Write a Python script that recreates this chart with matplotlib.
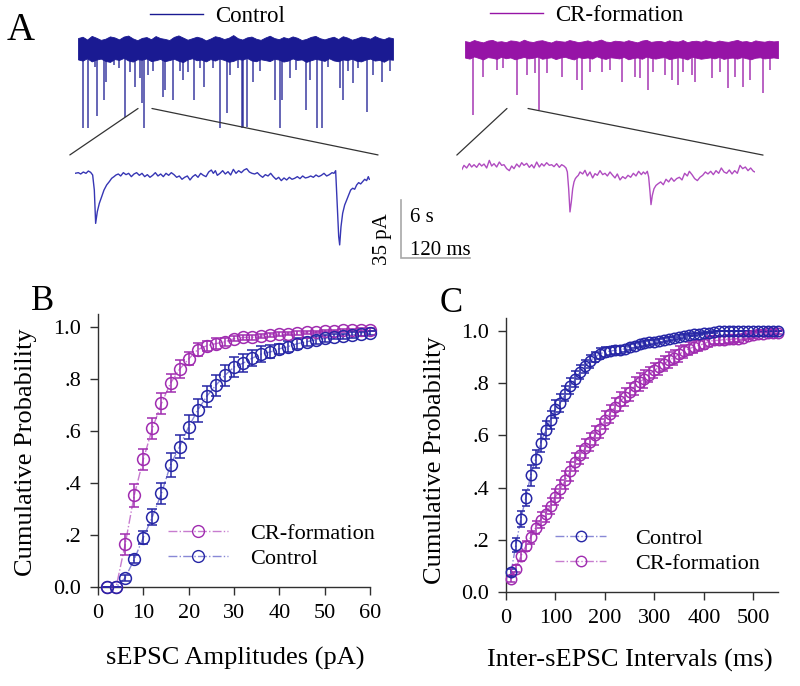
import numpy as np
import matplotlib
matplotlib.use('Agg')
import matplotlib.pyplot as plt
from matplotlib.lines import Line2D
from matplotlib.patches import ConnectionPatch

plt.rcParams['font.family'] = ['Liberation Serif', 'DejaVu Serif']

# ---------------- data: panel B (amplitudes) ----------------
amp_x = [2, 4, 6, 8, 10, 12, 14, 16, 18, 20, 22, 24, 26, 28, 30, 32, 34, 36, 38, 40,
         42, 44, 46, 48, 50, 52, 54, 56, 58, 60]
amp_ctrl = [0.0, 0.0, 0.035, 0.107, 0.19, 0.27, 0.36, 0.47, 0.54, 0.616, 0.68, 0.734,
            0.776, 0.814, 0.846, 0.861, 0.88, 0.896, 0.904, 0.916, 0.925, 0.936, 0.943,
            0.951, 0.956, 0.963, 0.965, 0.969, 0.974, 0.976]
amp_ctrl_err = [0.0, 0.0, 0.01, 0.015, 0.025, 0.03, 0.04, 0.045, 0.045, 0.045, 0.045,
                0.04, 0.04, 0.04, 0.04, 0.035, 0.03, 0.03, 0.025, 0.02, 0.02, 0.02,
                0.015, 0.015, 0.012, 0.01, 0.01, 0.01, 0.008, 0.008]
amp_cr = [0.0, 0.0, 0.165, 0.353, 0.491, 0.61, 0.706, 0.784, 0.838, 0.877, 0.913, 0.928,
          0.936, 0.943, 0.955, 0.96, 0.96, 0.965, 0.97, 0.973, 0.974, 0.977, 0.979,
          0.981, 0.984, 0.985, 0.987, 0.988, 0.99, 0.99]
amp_cr_err = [0.0, 0.0, 0.04, 0.045, 0.04, 0.04, 0.04, 0.035, 0.035, 0.025, 0.025, 0.02,
              0.02, 0.015, 0.01, 0.01, 0.01, 0.008, 0.008, 0.008, 0.006, 0.006, 0.006,
              0.005, 0.005, 0.005, 0.005, 0.005, 0.005, 0.005]

# ---------------- data: panel C (intervals) ----------------
int_x = [10, 20, 30, 40, 50, 60, 70, 80, 90, 100, 110, 120, 130, 140, 150, 160, 170,
         180, 190, 200, 210, 220, 230, 240, 250, 260, 270, 280, 290, 300, 310, 320,
         330, 340, 350, 360, 370, 380, 390, 400, 410, 420, 430, 440, 450, 460, 470,
         480, 490, 500, 510, 520, 530, 540, 550]
int_ctrl = [0.075, 0.18, 0.28, 0.36, 0.447, 0.51, 0.57, 0.62, 0.66, 0.70, 0.725, 0.76,
            0.79, 0.815, 0.843, 0.865, 0.884, 0.90, 0.913, 0.92, 0.923, 0.926, 0.928,
            0.932, 0.939, 0.944, 0.949, 0.953, 0.957, 0.959, 0.962, 0.964, 0.968,
            0.972, 0.977, 0.981, 0.985, 0.987, 0.99, 0.992, 0.994, 0.996, 1.0, 1.0,
            1.0, 1.0, 1.0, 1.0, 1.0, 1.0, 1.0, 1.0, 1.0, 1.0, 1.0]
int_ctrl_err = [0.015, 0.025, 0.03, 0.03, 0.04, 0.035, 0.035, 0.035, 0.035, 0.035,
                0.035, 0.03, 0.03, 0.03, 0.025, 0.025, 0.025, 0.02, 0.02, 0.02, 0.015,
                0.015, 0.015, 0.012, 0.012, 0.01, 0.01, 0.01, 0.01, 0.008, 0.008,
                0.008, 0.008, 0.006, 0.006, 0.006, 0.005, 0.005, 0.004, 0.004, 0.003,
                0.003, 0.0, 0.0, 0.0, 0.0, 0.0, 0.0, 0.0, 0.0, 0.0, 0.0, 0.0, 0.0, 0.0]
int_cr = [0.05, 0.09, 0.137, 0.176, 0.21, 0.246, 0.277, 0.30, 0.33, 0.364, 0.396, 0.428,
          0.462, 0.498, 0.524, 0.55, 0.575, 0.60, 0.626, 0.658, 0.683, 0.709, 0.73,
          0.747, 0.766, 0.788, 0.805, 0.817, 0.833, 0.849, 0.862, 0.875, 0.888, 0.898,
          0.911, 0.922, 0.932, 0.939, 0.945, 0.951, 0.96, 0.964, 0.964, 0.967, 0.968,
          0.969, 0.971, 0.974, 0.98, 0.983, 0.987, 0.99, 0.992, 0.994, 0.994]
int_cr_err = [0.01, 0.015, 0.02, 0.02, 0.025, 0.025, 0.03, 0.03, 0.03, 0.03, 0.035,
              0.035, 0.035, 0.035, 0.035, 0.035, 0.035, 0.035, 0.035, 0.035, 0.035,
              0.035, 0.035, 0.035, 0.035, 0.035, 0.035, 0.035, 0.03, 0.03, 0.03, 0.03,
              0.03, 0.03, 0.03, 0.025, 0.025, 0.025, 0.02, 0.02, 0.02, 0.015, 0.015,
              0.015, 0.015, 0.012, 0.012, 0.01, 0.01, 0.01, 0.008, 0.008, 0.006, 0.006,
              0.005]

y_ticks = [0.0, 0.2, 0.4, 0.6, 0.8, 1.0]
y_tick_labels = ['0.0', '.2', '.4', '.6', '.8', '1.0']
amp_ticks = [0, 10, 20, 30, 40, 50, 60]
int_ticks = [0, 100, 200, 300, 400, 500]

# ---------------- data: panel A overview traces (s, pA) ----------------
ctrl_band_top = [6.0, 6.8, 5.1, 7.3, 6.2, 4.9, 5.6, 7.0, 6.4, 5.2,
                 6.9, 7.5, 5.8, 4.7, 6.1, 6.6, 5.3, 7.2, 6.0, 5.5,
                 4.8, 6.7, 7.6, 6.3, 5.0, 5.9, 6.8, 6.1, 4.6, 5.7,
                 7.1, 6.5, 5.4, 6.2, 7.8, 5.9, 5.1, 6.4, 6.9, 5.6,
                 4.9, 6.3, 7.4, 6.0, 5.3, 6.6, 5.8, 7.0, 6.2, 4.8,
                 5.5, 6.7, 7.3, 5.9, 5.2, 6.1, 6.8, 5.4, 7.1, 6.3,
                 5.0, 5.8, 6.9, 6.4, 5.6, 7.2, 6.0, 5.3, 6.5, 5.9]
ctrl_band_bot = [-6.9, -7.6, -6.2, -8.1, -7.0, -6.4, -7.8, -8.4, -6.7, -7.2,
                 -6.0, -7.5, -8.2, -6.8, -7.1, -6.3, -7.9, -7.4, -6.6, -8.0,
                 -7.3, -6.5, -7.7, -8.5, -6.9, -6.2, -7.4, -7.0, -8.1, -6.7,
                 -7.6, -6.4, -7.2, -8.3, -7.8, -6.6, -7.1, -6.0, -7.5, -8.0,
                 -6.8, -7.3, -7.9, -6.5, -7.0, -8.2, -7.6, -6.3, -7.2, -6.9,
                 -8.4, -7.4, -6.6, -7.1, -7.8, -6.2, -7.5, -8.0, -6.9, -7.3,
                 -6.5, -7.7, -8.1, -7.0, -6.4, -7.6, -7.2, -8.3, -6.8, -7.1]
ctrl_ev_t = [0.41, 0.90, 1.48, 1.68, 2.29, 2.43, 3.13, 3.57, 4.09, 4.52, 4.96, 5.39,
             5.60, 5.77, 6.12, 6.55, 7.42, 7.57, 8.29, 8.87, 9.16, 9.59, 10.09, 10.61,
             10.96, 11.77, 12.35, 12.93, 13.22, 13.94, 14.23, 14.38, 14.67, 15.25,
             15.83, 17.13, 17.57, 17.71, 18.43, 18.99, 19.83, 20.17, 20.75, 21.19,
             21.77, 22.78, 23.07, 23.51, 23.94, 24.38, 25.10, 25.68, 26.41, 27.14]
ctrl_ev_amp = [-48.0, -48.0, -11.3, -41.0, -31.4, -20.3, -10.5, -12.3, -41.4, -14.3,
               -23.3, -18.1, -33.4, -48.0, -16.1, -14.1, -29.4, -25.3, -31.4, -14.1,
               -19.3, -14.3, -31.4, -12.3, -23.3, -12.3, -48.0, -39.4, -16.1, -12.3,
               -48.0, -47.4, -47.4, -20.3, -14.1, -31.4, -48.0, -31.4, -18.1, -13.1,
               -37.4, -19.3, -48.0, -48.0, -11.3, -24.3, -31.4, -14.1, -21.3, -12.3,
               -38.4, -16.1, -20.3, -14.1]

cr_band_top = [4.2, 3.6, 4.8, 4.0, 3.4, 4.5, 4.9, 3.8, 4.1, 3.5,
               4.6, 4.3, 3.7, 5.0, 4.0, 3.6, 4.4, 4.7, 3.9, 3.3,
               4.5, 4.1, 3.8, 4.8, 4.2, 3.5, 4.0, 4.6, 3.7, 4.3,
               5.1, 3.9, 3.6, 4.4, 4.2, 3.8, 4.7, 4.0, 3.4, 4.5,
               4.9, 3.7, 4.1, 4.3, 3.6, 4.6, 4.0, 3.9, 4.8, 3.5,
               4.2, 4.4, 3.8, 4.7, 4.1, 3.6, 4.5, 4.0, 3.7, 4.3,
               4.9, 3.9, 4.2, 3.5, 4.6, 4.1, 3.8, 4.4, 4.0, 4.2]
cr_band_bot = [-5.8, -6.4, -5.1, -6.0, -6.9, -5.5, -5.9, -6.6, -5.3, -6.2,
               -5.7, -6.8, -6.1, -5.4, -6.3, -5.9, -5.2, -6.5, -6.0, -5.6,
               -6.7, -5.8, -5.3, -6.2, -6.9, -5.5, -6.1, -5.7, -6.4, -5.0,
               -6.0, -6.6, -5.6, -5.9, -6.3, -5.4, -6.8, -6.1, -5.7, -6.5,
               -5.2, -6.0, -6.4, -5.8, -5.5, -6.7, -6.2, -5.6, -6.0, -6.9,
               -5.3, -5.9, -6.5, -6.1, -5.7, -6.3, -5.4, -6.6, -6.0, -5.8,
               -6.4, -5.5, -6.2, -6.8, -5.9, -5.6, -6.3, -6.0, -5.7, -6.1]
cr_ev_t = [0.67, 1.59, 2.75, 3.33, 4.49, 5.36, 6.09, 6.46, 7.10, 8.41, 9.77, 10.14,
           10.87, 11.88, 12.61, 13.62, 14.78, 15.22, 15.94, 16.38, 17.39, 17.97, 18.55,
           18.99, 19.71, 20.00, 21.45, 22.17, 22.90, 23.48, 24.20, 24.78, 25.94, 26.52]
cr_ev_amp = [-40.4, -17.3, -13.3, -12.3, -28.3, -16.3, -15.3, -37.4, -15.3, -17.3,
             -19.3, -25.3, -14.3, -14.3, -13.3, -20.3, -17.3, -18.3, -25.3, -14.3,
             -16.3, -19.3, -22.3, -14.3, -16.3, -20.3, -18.3, -14.3, -24.3, -17.3,
             -23.3, -19.3, -27.3, -13.3]

# ---------------- data: panel A expanded traces (ms, pA) ----------------
ctrl_in_t = [0, 5.8, 9.9, 14.5, 19.1, 23.2, 27.2, 30.7, 33.6, 35.9, 38.8, 42.3, 46.4,
             50.4, 55.1, 59.7, 63.8, 67.8, 71.3, 75.4, 79.4, 84.1, 88.7, 93.3, 98.0,
             102.6, 107.2, 111.9, 116.5, 121.2, 125.8, 130.4, 135.1, 139.7, 144.3,
             149.0, 153.6, 158.3, 162.9, 167.5, 172.2, 176.8, 181.4, 186.1, 190.7,
             195.4, 200.0, 204.6, 209.3, 213.9, 218.6, 223.2, 227.8, 232.5, 237.1,
             240.6, 244.1, 247.5, 252.2, 256.8, 261.4, 266.1, 270.7, 275.4, 280.0,
             284.6, 289.3, 293.9, 298.6, 303.2, 307.8, 312.5, 317.1, 321.7, 326.4,
             331.0, 335.7, 340.3, 344.9, 349.6, 354.2, 358.8, 363.5, 368.1, 372.8,
             377.4, 382.0, 386.7, 391.3, 395.9, 400.6, 405.2, 409.9, 414.5, 419.1,
             423.8, 428.4, 433.0, 437.7, 442.3, 447.0, 450.4, 453.3, 456.2, 458.6,
             460.3, 462.6, 465.5, 469.0, 472.5, 475.9, 479.4, 482.9, 486.4, 489.9,
             493.3, 496.8, 500.3, 503.8, 507.2, 510.1, 511.9]
ctrl_in_i = [-0.2, 0.2, -0.6, 0.6, -0.2, 1.2, 0.4, -1.2, -10.3, -30.4, -23.3, -18.3,
             -14.3, -10.3, -7.2, -5.2, -3.2, -2.2, -1.2, -0.6, -1.8, 0.2, -1.0, -0.2,
             -2.2, -0.6, 0.2, -1.4, -0.2, -2.2, -1.0, -2.6, -1.4, 0.2, -1.8, -0.6,
             -2.2, -0.2, -1.4, 0.2, -1.0, -2.6, -1.8, -3.8, -2.6, -1.8, -4.2, -2.2,
             -1.0, -2.6, -0.2, -1.4, -2.2, 0.6, 1.8, -0.2, 1.4, -1.4, -0.2, 1.4, -0.6,
             0.8, -1.2, 2.2, -0.2, 1.4, 0.2, 1.8, 2.6, 0.6, -0.2, -0.6, 0.2, -1.4,
             -2.6, -1.0, -1.8, -0.2, -2.2, -3.8, -2.6, -4.6, -3.0, -4.2, -2.6, -3.8,
             -3.2, -2.2, -3.4, -1.8, -3.0, -2.6, -1.8, -2.6, -1.2, -2.2, -1.4, -0.2,
             -1.8, -1.0, 0.2, -0.2, 1.4, -20.3, -38.4, -43.4, -32.4, -24.3, -19.3,
             -16.3, -13.3, -10.3, -9.2, -9.8, -7.2, -5.8, -6.6, -5.2, -3.8, -4.6,
             -2.2, -3.8]

cr_in_t = [0, 3.5, 8.1, 12.8, 16.8, 20.9, 25.5, 30.1, 34.2, 38.3, 42.9, 47.5, 51.6,
           55.7, 60.3, 64.9, 69.0, 73.0, 77.7, 82.3, 86.4, 90.4, 95.1, 99.7, 103.8,
           107.8, 112.5, 117.1, 121.2, 125.2, 129.9, 134.5, 138.6, 142.6, 147.2,
           151.9, 155.9, 160.0, 164.6, 169.3, 173.3, 177.4, 180.9, 183.2, 185.5,
           187.8, 190.1, 192.5, 194.8, 197.1, 199.4, 202.3, 205.2, 209.9, 213.9,
           218.0, 222.6, 227.2, 231.3, 235.4, 240.0, 244.6, 248.7, 252.8, 257.4,
           262.0, 266.1, 270.1, 274.8, 279.4, 284.1, 288.7, 293.3, 298.0, 302.6,
           307.2, 311.9, 315.4, 318.8, 322.3, 324.6, 327.0, 328.7, 331.0, 333.9,
           337.4, 341.4, 345.5, 350.1, 354.8, 359.4, 364.1, 368.7, 373.3, 378.0,
           382.6, 387.2, 391.9, 395.4, 400.0, 404.6, 409.3, 413.9, 418.6, 423.2,
           427.8, 432.5, 437.1, 441.7, 446.4, 451.0, 455.7, 460.3, 464.9, 469.6,
           474.2, 478.8, 483.5, 488.1, 492.8, 497.4, 502.0, 506.7, 509.6]
cr_in_i = [-0.8, 1.6, 0.0, 2.6, 0.6, 2.0, 0.4, 2.8, 1.2, 2.4, 0.0, 4.6, 1.2, 2.6, 0.6,
           3.6, 1.6, 2.0, -0.4, -1.6, 1.2, -0.4, 2.4, 0.6, 3.2, 1.6, 2.8, 0.4, 2.0,
           0.0, 3.6, 0.6, 2.6, 1.2, 3.2, 1.6, 2.0, 0.8, 2.6, 0.4, 2.0, 1.2, 0.0, -2.4,
           -12.5, -26.5, -20.5, -12.5, -8.4, -6.4, -5.4, -4.4, -2.4, -3.6, -1.4, -4.8,
           -2.4, -6.0, -3.4, -4.4, -1.6, -4.0, -3.2, -4.8, -2.4, -4.4, -6.0, -3.6,
           -7.2, -5.2, -6.4, -4.4, -5.6, -3.2, -4.8, -2.0, -4.0, -2.4, -3.6, -2.0,
           -5.4, -14.5, -22.1, -16.5, -12.5, -10.5, -9.4, -8.4, -10.1, -6.8, -8.4,
           -6.0, -8.0, -6.4, -5.6, -7.2, -3.2, -4.8, -2.0, -4.0, -6.4, -7.6, -5.6,
           -4.4, -2.4, -3.6, -2.0, -4.0, -1.6, -3.2, 0.0, -2.4, -3.2, -1.2, -3.6,
           -1.6, -3.2, 1.6, -0.4, 0.6, -1.6, 0.0, -2.0, -2.4]

# expanded windows (s in overview) and scale-bar sizes
ctrl_zoom_win = (5.22, 6.43)
cr_zoom_win = (3.65, 5.48)
bar_ms, bar_pa = 120, 35

# ---------------- styles ----------------
W, H = 800, 686
PA_PER_PX = 35 / 58.0
S_PER_PX = 6 / 69.0
MS_PER_PX = 120 / 69.0
BLUE = '#2626a6'
BLUE_LINE = '#8888d6'
PURPLE = '#a02cb0'
PURPLE_LINE = '#c77ccf'
CTRL_TRACE = '#1a1a92'
CR_TRACE = '#9614a6'
CTRL_IN = '#3636b4'
CR_IN = '#b04cc0'
AX_COL = '#303030'

fig = plt.figure(figsize=(W / 100, H / 100), dpi=100)


def box(x0, y0, x1, y1):
    return [x0 / W, 1 - y1 / H, (x1 - x0) / W, (y1 - y0) / H]


def trace_axes(x0, x1, ytop, ybase, ybot, per_px):
    ax = fig.add_axes(box(x0, ytop, x1, ybot))
    ax.set_xlim(0, (x1 - x0) * per_px)
    ax.set_ylim(-(ybot - ybase) * PA_PER_PX, (ybase - ytop) * PA_PER_PX)
    ax.axis('off')
    return ax


# ---- overview traces ----
ax_oc = trace_axes(78, 393, 28, 48, 135, S_PER_PX)
tgrid = np.linspace(0, ax_oc.get_xlim()[1], len(ctrl_band_top))
ax_oc.fill_between(tgrid, ctrl_band_bot, ctrl_band_top, color=CTRL_TRACE, lw=0.6)
ax_oc.vlines(ctrl_ev_t, 0, ctrl_ev_amp, color=CTRL_TRACE, lw=1.1, alpha=0.85)

ax_or = trace_axes(465, 778, 28, 48, 135, S_PER_PX)
tgrid2 = np.linspace(0, ax_or.get_xlim()[1], len(cr_band_top))
ax_or.fill_between(tgrid2, cr_band_bot, cr_band_top, color=CR_TRACE, lw=0.6)
ax_or.vlines(cr_ev_t, 0, cr_ev_amp, color=CR_TRACE, lw=1.1, alpha=0.85)

# legends above overview traces
ax_oc.legend(handles=[Line2D([], [], color=CTRL_TRACE, lw=1)], labels=['Control'],
             loc='center left', bbox_to_anchor=((150 - 78) / 315, (135 - 16) / 107),
             frameon=False, fontsize=16.5, handlelength=2.3, handletextpad=0.55,
             borderpad=0, borderaxespad=0)
ax_or.legend(handles=[Line2D([], [], color=CR_TRACE, lw=1)], labels=['CR-formation'],
             loc='center left', bbox_to_anchor=((490 - 465) / 313, (135 - 15) / 107),
             frameon=False, fontsize=16.5, handlelength=2.3, handletextpad=0.55,
             borderpad=0, borderaxespad=0)

# ---- expanded traces ----
ax_ic = trace_axes(75, 370, 140, 173, 262, MS_PER_PX)
ax_ic.plot(ctrl_in_t, ctrl_in_i, color=CTRL_IN, lw=1.0)
ax_ir = trace_axes(462, 755, 140, 168, 262, MS_PER_PX)
ax_ir.plot(cr_in_t, cr_in_i, color=CR_IN, lw=1.0)

# connector lines
for ax_o, ax_i, win, yo, yi in [(ax_oc, ax_ic, ctrl_zoom_win, -36.5, 10.9),
                                (ax_or, ax_ir, cr_zoom_win, -36.5, 7.8)]:
    xl = ax_i.get_xlim()
    for xo, xi in [(win[0], xl[0] - 9), (win[1], xl[1] + 14)]:
        cp = ConnectionPatch(xyA=(xo, yo), coordsA=ax_o.transData,
                             xyB=(xi, yi), coordsB=ax_i.transData,
                             color='#333333', lw=0.9)
        fig.add_artist(cp)

# scale bar
ax_sb = fig.add_axes(box(401, 200, 470, 258))
ax_sb.set_xlim(0, bar_ms)
ax_sb.set_ylim(0, bar_pa)
ax_sb.axis('off')
ax_sb.plot([0, 0, bar_ms], [bar_pa, 0, 0], color='#a8a8a8', lw=1.2,
           solid_joinstyle='miter', clip_on=False)
ax_sb.text(-33, 11.5, '35 pA', rotation=90, ha='center', va='center', fontsize=15)
ax_sb.text(15.5, 24.5, '6 s', ha='left', va='center', fontsize=15)
ax_sb.text(15.5, 4.8, '120 ms', ha='left', va='center', fontsize=15)


# ---- cumulative panels ----
def cum_axes(x0, x1, y0px, y1px):
    top = y0px - 1.05 * (y0px - y1px)
    ax = fig.add_axes(box(x0, top, x1, y0px))
    ax.set_ylim(0, 1.05)
    for s in ['top', 'right']:
        ax.spines[s].set_visible(False)
    for s in ['left', 'bottom']:
        ax.spines[s].set_color(AX_COL)
        ax.spines[s].set_linewidth(1.0)
    ax.tick_params(direction='out', length=6, width=1.0, color=AX_COL,
                   labelsize=16, pad=6)
    ax.set_yticks(y_ticks)
    ax.set_yticklabels(y_tick_labels)
    return ax


def series(ax, x, y, e, mcol, lcol, ms, cs):
    ax.plot(x, y, ls='-.', color=lcol, lw=1.0, clip_on=False, zorder=2)
    ax.errorbar(x, y, yerr=e, fmt='o', ms=ms, mfc='none', mec=mcol, mew=1.1,
                ecolor=mcol, elinewidth=1.1, capsize=cs, capthick=1.0,
                clip_on=False, zorder=3)


axB = cum_axes(98, 370, 587, 327)
axB.set_xlim(0, 60)
axB.set_xticks(amp_ticks)
series(axB, amp_x, amp_cr, amp_cr_err, PURPLE, PURPLE_LINE, 8.5, 3.5)
series(axB, amp_x, amp_ctrl, amp_ctrl_err, BLUE, BLUE_LINE, 8.5, 3.5)
axB.set_xlabel('sEPSC Amplitudes (pA)', fontsize=19)
axB.set_ylabel('Cumulative Probability', fontsize=19)
axB.xaxis.set_label_coords((235 - 98) / 272, -(647 - 587) / 273)
axB.yaxis.set_label_coords(-(98 - 37) / 272, (587 - 452) / 273)
hB = [Line2D([], [], ls='-.', color=PURPLE_LINE, lw=1, marker='o', mfc='none',
             mec=PURPLE, ms=8.5),
      Line2D([], [], ls='-.', color=BLUE_LINE, lw=1, marker='o', mfc='none',
             mec=BLUE, ms=8.5)]
axB.legend(hB, ['CR-formation', 'Control'], loc='lower left',
           bbox_to_anchor=(0.257, 0.065), frameon=False, fontsize=16,
           handlelength=2.7, handletextpad=1.0, labelspacing=0.2, borderpad=0,
           borderaxespad=0, numpoints=1)

axC = cum_axes(506, 778, 592, 331)
axC.set_xlim(0, 550)
axC.set_xticks(int_ticks)
series(axC, int_x, int_cr, int_cr_err, PURPLE, PURPLE_LINE, 7.5, 3.0)
series(axC, int_x, int_ctrl, int_ctrl_err, BLUE, BLUE_LINE, 7.5, 3.0)
axC.set_xlabel('Inter-sEPSC Intervals (ms)', fontsize=19)
axC.set_ylabel('Cumulative Probability', fontsize=19)
axC.xaxis.set_label_coords((630 - 506) / 272, -(649 - 592) / 274)
axC.yaxis.set_label_coords(-(506 - 446) / 272, (592 - 460) / 274)
hC = [Line2D([], [], ls='-.', color=BLUE_LINE, lw=1, marker='o', mfc='none',
             mec=BLUE, ms=7.5),
      Line2D([], [], ls='-.', color=PURPLE_LINE, lw=1, marker='o', mfc='none',
             mec=PURPLE, ms=7.5)]
axC.legend(hC, ['Control', 'CR-formation'], loc='lower left',
           bbox_to_anchor=(0.18, 0.065), frameon=False, fontsize=16,
           handlelength=2.3, handletextpad=1.3, labelspacing=0.2, borderpad=0,
           borderaxespad=0, numpoints=1)

# panel letters
fig.text(21 / W, 1 - 30 / H, 'A', fontsize=28, ha='center', va='center')
fig.text(43 / W, 1 - 302 / H, 'B', fontsize=25, ha='center', va='center')
fig.text(451 / W, 1 - 303 / H, 'C', fontsize=25, ha='center', va='center')

fig.savefig('out.png', dpi=100)
